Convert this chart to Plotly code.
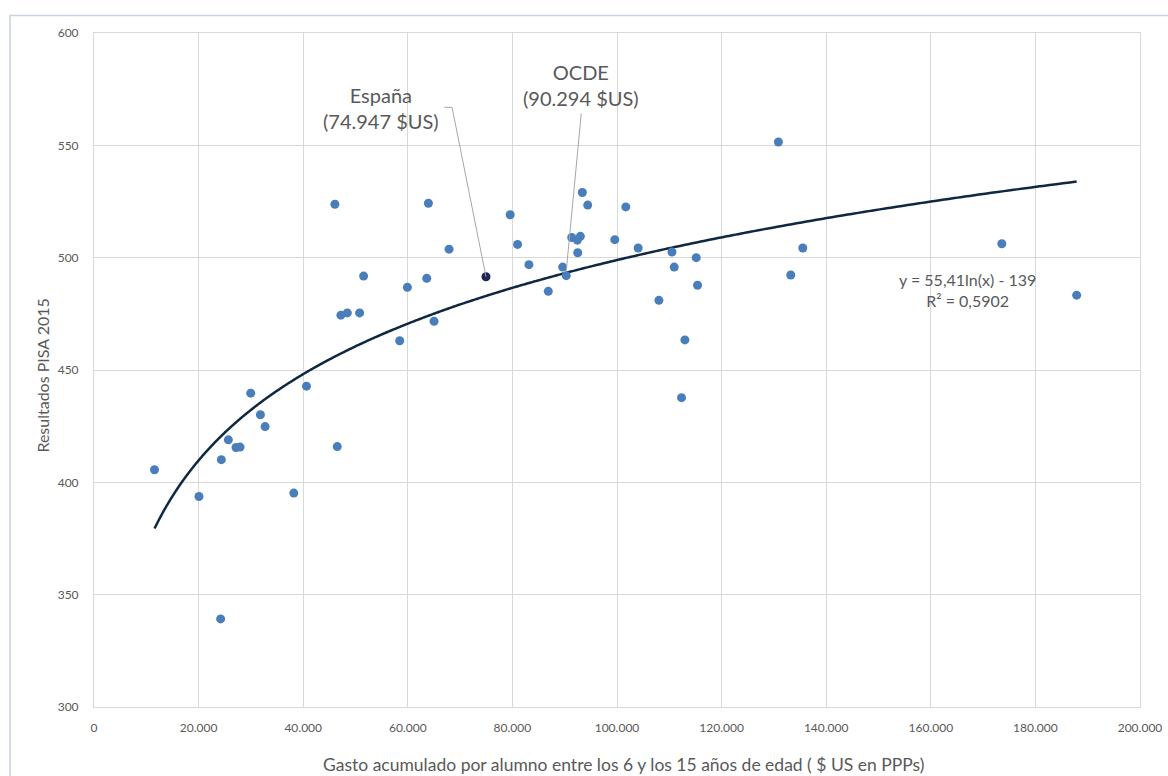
import numpy as np
import plotly.graph_objects as go

# Cumulative spending per student aged 6-15 (USD PPP) and PISA 2015 score
gasto = [
    11570, 20070, 24210, 24350, 25690, 27160, 27930, 29970, 31820, 32720,
    38200, 40630, 46510, 46060, 63940, 51550, 47210, 48430, 50790, 58450,
    59920, 63620, 65020, 67890, 79580, 80990, 83160, 86860, 89610, 90294,
    91340, 92420, 92990, 92490, 93370, 94400, 99580, 101680, 104040, 108010,
    110500, 110940, 115150, 115400, 112980, 112340, 130860, 135520, 133220,
    173580, 187890,
]
pisa = [
    405.6, 393.7, 339.2, 410.1, 418.9, 415.5, 415.7, 439.7, 430.1, 424.8,
    395.2, 442.8, 415.9, 523.8, 524.2, 491.8, 474.4, 475.4, 475.4, 463.0,
    486.8, 490.8, 471.7, 503.8, 519.1, 505.9, 496.9, 485.0, 495.8, 492.0,
    509.0, 507.8, 509.5, 502.2, 529.0, 523.4, 508.0, 522.6, 504.3, 481.0,
    502.5, 495.8, 500.0, 487.7, 463.4, 437.7, 551.5, 504.3, 492.3,
    506.2, 483.3,
]

# Highlighted countries
espana_x, espana_y = 74947, 491.5
ocde_x, ocde_y = 90294, 492.0

# Logarithmic trend line: y = a*ln(x) + b
trend_a, trend_b = 55.41, -139
trend_r2 = 0.5902

x_ticks = list(range(0, 200001, 20000))
y_ticks = list(range(300, 601, 50))

x_title = "Gasto acumulado por alumno entre los 6 y los 15 años de edad ( $ US en PPPs)"
y_title = "Resultados PISA 2015"

GRAY_TEXT = "#595959"
GRID = "#d9d9d9"
FONT = "Lato"

fig = go.Figure()

xt = np.geomspace(min(gasto), max(gasto), 400)
fig.add_trace(go.Scatter(
    x=xt, y=trend_a * np.log(xt) + trend_b, mode="lines",
    line=dict(color="#0e2841", width=2.5, shape="spline"),
    hoverinfo="skip", showlegend=False,
))

fig.add_trace(go.Scatter(
    x=gasto, y=pisa, mode="markers",
    marker=dict(color="#4a7ebb", size=9, line=dict(width=0)),
    showlegend=False,
))

fig.add_trace(go.Scatter(
    x=[espana_x], y=[espana_y], mode="markers",
    marker=dict(color="#1f2555", size=9, line=dict(width=0)),
    showlegend=False,
))

# Leader lines from the labels to their points
lead_col = "#a6a6a6"
fig.add_shape(type="path", xref="x", yref="y",
              path=f"M 66990,566.9 L 68460,566.9 L {espana_x},{espana_y}",
              line=dict(color=lead_col, width=1))
fig.add_shape(type="line", xref="x", yref="y",
              x0=93170, y0=564.2, x1=ocde_x, y1=ocde_y + 2,
              line=dict(color=lead_col, width=1))

fig.add_annotation(x=54850, y=566.4, xref="x", yref="y",
                   text=f"España<br>({espana_x:,} $US)".replace(",", "."),
                   showarrow=False, xanchor="center", yanchor="middle",
                   font=dict(family=FONT, size=20, color=GRAY_TEXT))
fig.add_annotation(x=93070, y=576.9, xref="x", yref="y",
                   text=f"OCDE<br>({ocde_x:,} $US)".replace(",", "."),
                   showarrow=False, xanchor="center", yanchor="middle",
                   font=dict(family=FONT, size=20, color=GRAY_TEXT))
eq = f"y = {trend_a:.2f}ln(x) - {abs(trend_b)}".replace(".", ",")
r2 = f"R² = {trend_r2:.4f}".replace(".", ",")
fig.add_annotation(x=167060, y=485.7, xref="x", yref="y",
                   text=f"{eq}<br>{r2}",
                   showarrow=False, xanchor="center", yanchor="middle",
                   font=dict(family=FONT, size=16, color=GRAY_TEXT))

# Axis titles
fig.add_annotation(x=0.506, y=-0.0852, xref="paper", yref="paper",
                   text=x_title, showarrow=False,
                   xanchor="center", yanchor="middle",
                   font=dict(family=FONT, size=17.5, color=GRAY_TEXT))
fig.add_annotation(x=-0.0492, y=0.491, xref="paper", yref="paper",
                   text=y_title, showarrow=False, textangle=-90,
                   xanchor="center", yanchor="middle",
                   font=dict(family=FONT, size=16, color=GRAY_TEXT))

# Outer chart frame
fig.add_shape(type="rect", xref="paper", yref="paper",
              x0=-0.0803, x1=1.04, y0=-0.13, y1=1.026,
              line=dict(color="#c9d3e3", width=1.5), layer="below")

fig.update_layout(
    width=1168, height=776,
    margin=dict(l=93.5, r=28, t=32.5, b=68.5, autoexpand=False),
    plot_bgcolor="white", paper_bgcolor="white",
    separators=",.",
    font=dict(family=FONT, color=GRAY_TEXT),
    xaxis=dict(
        range=[0, 200000], tickvals=x_ticks, tickformat=",d",
        showgrid=True, gridcolor=GRID, gridwidth=1, zeroline=False,
        showline=True, linecolor=GRID, linewidth=1, mirror=True,
        ticks="", ticklabelstandoff=10, automargin=False,
        tickfont=dict(family=FONT, size=12, color=GRAY_TEXT),
    ),
    yaxis=dict(
        range=[300, 600], tickvals=y_ticks,
        showgrid=True, gridcolor=GRID, gridwidth=1, zeroline=False,
        showline=True, linecolor=GRID, linewidth=1, mirror=True,
        ticks="", ticklabelstandoff=12, automargin=False,
        tickfont=dict(family=FONT, size=12, color=GRAY_TEXT),
    ),
)

fig.write_html("out.html")
